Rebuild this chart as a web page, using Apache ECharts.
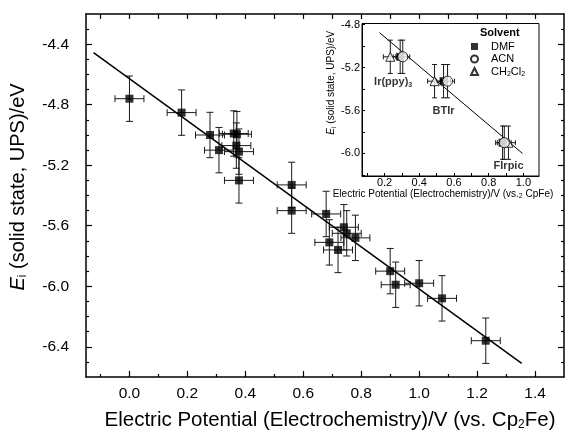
<!doctype html>
<html>
<head>
<meta charset="UTF-8">
<title>Ei vs electrochemical potential</title>
<script src="https://cdn.jsdelivr.net/npm/echarts@6/dist/echarts.min.js"></script>
<style>
  html, body { margin: 0; padding: 0; background: #fff; }
  #chart { width: 565px; height: 432px; }
</style>
</head>
<body>
<div id="chart"></div>
<script>
// main plot: UPS ionisation energy vs electrochemical potential
const potX = [0.0, 0.18, 0.278, 0.309, 0.36, 0.371, 0.369, 0.378, 0.378, 0.56, 0.56,
  0.679, 0.69, 0.72, 0.74, 0.75, 0.78, 0.90, 0.919, 1.0, 1.079, 1.23];
const energyY = [-4.76, -4.852, -5.0, -5.10, -4.99, -4.995, -5.07, -5.11, -5.30, -5.33, -5.50,
  -5.522, -5.71, -5.76, -5.61, -5.65, -5.68, -5.90, -5.99, -5.98, -6.08, -6.36];
const mainErrX = 0.05;
const mainErrY = 0.15;
const fitX = [-0.124, 1.354];
const fitY = [-4.456, -6.51];

// inset: three emitters measured in three solvents
const compounds = ['Ir(ppy)3', 'BTIr', 'FIrpic'];
const dmfX = [0.29, 0.54, 0.88];
const acnX = [0.305, 0.563, 0.89];
const dcmX = [0.233, 0.488, 0.914];
const insetY = [-5.10, -5.327, -5.90];
const insetErrX = 0.04;
const insetErrY = 0.155;
const insetFitX = [0.171, 0.995];
const insetFitY = [-4.875, -6.0];

// ticks
const xMajor = [0.0, 0.2, 0.4, 0.6, 0.8, 1.0, 1.2, 1.4];
const xMinor = [-0.1, 0.1, 0.3, 0.5, 0.7, 0.9, 1.1, 1.3];
const yMajor = [-6.4, -6.0, -5.6, -5.2, -4.8, -4.4];
const yMinor = [-6.5, -6.3, -6.2, -6.1, -5.9, -5.8, -5.7, -5.5, -5.4, -5.3,
  -5.1, -5.0, -4.9, -4.7, -4.6, -4.5, -4.3];
const insetXLabels = [0.2, 0.4, 0.6, 0.8, 1.0];
const insetXTicks = [0.1, 0.2, 0.3, 0.4, 0.5, 0.6, 0.7, 0.8, 0.9, 1.0];
const insetYLabels = [-6.0, -5.6, -5.2, -4.8];
const insetYTicks = [-6.2, -6.0, -5.8, -5.6, -5.4, -5.2, -5.0, -4.8];

const font = 'Liberation Sans, Arial, Helvetica, sans-serif';
const ink = '#000';

function tickAxis(gridIndex, position, min, max, ticks, len, withLine, labels) {
  return {
    type: 'value', gridIndex: gridIndex, position: position, min: min, max: max,
    axisLine: { show: withLine, onZero: false, lineStyle: { color: ink, width: gridIndex ? 1 : 1.5 } },
    axisTick: { show: true, inside: true, length: len, customValues: ticks,
      lineStyle: { color: ink, width: gridIndex ? 1 : 1.2 } },
    axisLabel: labels ? { show: true, customValues: labels,
      formatter: v => v.toFixed(1), color: ink, fontFamily: font } : { show: false },
    splitLine: { show: false }
  };
}

function errorBars(ex, ey, cap) {
  return function (params, api) {
    const x = api.value(0), y = api.value(1);
    const c = api.coord([x, y]);
    const l = api.coord([x - ex, y])[0], r = api.coord([x + ex, y])[0];
    const t = api.coord([x, y + ey])[1], b = api.coord([x, y - ey])[1];
    const st = { stroke: '#1a1a1a', lineWidth: 1 };
    const seg = (x1, y1, x2, y2) => ({ type: 'line', shape: { x1, y1, x2, y2 }, style: st });
    return { type: 'group', children: [
      seg(l, c[1], r, c[1]), seg(l, c[1] - cap, l, c[1] + cap), seg(r, c[1] - cap, r, c[1] + cap),
      seg(c[0], t, c[0], b), seg(c[0] - cap, t, c[0] + cap, t), seg(c[0] - cap, b, c[0] + cap, b)
    ] };
  };
}

const sub = { fontFamily: font, verticalAlign: 'bottom' };

// x axes
const xMain = tickAxis(0, 'bottom', -0.15, 1.5, xMajor, 6, true, xMajor);
xMain.axisLabel.fontSize = 15.5;
xMain.axisLabel.margin = 9;
xMain.name = '{t|Electric Potential (Electrochemistry)/V (vs. Cp}{s|2}{t|Fe)}';
xMain.nameLocation = 'middle';
xMain.nameGap = 32;
xMain.nameTextStyle = { color: ink, fontFamily: font, padding: [0, 0, 0, 10], rich: {
  t: { fontFamily: font, fontSize: 20.5, lineHeight: 22, color: ink },
  s: Object.assign({ fontSize: 12, lineHeight: 8, color: ink }, sub) } };

const xInset = tickAxis(1, 'bottom', 0.07, 1.09, insetXTicks, 3, true, insetXLabels);
xInset.axisLabel.fontSize = 11;
xInset.axisLabel.margin = 1;
xInset.name = '{t|Electric Potential (Electrochemistry)/V (vs.}{s|2}{t| CpFe)}';
xInset.nameLocation = 'middle';
xInset.nameGap = 10;
xInset.nameTextStyle = { color: ink, fontFamily: font, padding: [0, 15, 0, 0], rich: {
  t: { fontFamily: font, fontSize: 10, lineHeight: 12, color: ink },
  s: Object.assign({ fontSize: 7, lineHeight: 5, color: ink }, sub) } };

// y axes
const yMain = tickAxis(0, 'left', -6.6, -4.2, yMajor, 6, true, yMajor);
yMain.axisLabel.fontSize = 15.5;
yMain.axisLabel.margin = 17;
yMain.name = '{i|E}{s|i}{t| (solid state, UPS)/eV}';
yMain.nameLocation = 'middle';
yMain.nameGap = 57;
yMain.nameTextStyle = { color: ink, fontFamily: font, padding: [0, 0, 0, 17], rich: {
  i: { fontFamily: font, fontSize: 20, fontStyle: 'italic', lineHeight: 22, color: ink },
  t: { fontFamily: font, fontSize: 20, lineHeight: 22, color: ink },
  s: Object.assign({ fontSize: 12, lineHeight: 8, color: ink }, sub) } };

const yInset = tickAxis(1, 'left', -6.21, -4.79, insetYTicks, 3, true, insetYLabels);
yInset.axisLabel.fontSize = 11;
yInset.axisLabel.margin = 2;
yInset.name = '{i|E}{s|i}{t| (solid state, UPS)/eV}';
yInset.nameLocation = 'middle';
yInset.nameGap = 23;
yInset.nameTextStyle = { color: ink, fontFamily: font, padding: [0, 0, 0, 34], rich: {
  i: { fontFamily: font, fontSize: 10, fontStyle: 'italic', lineHeight: 12, color: ink },
  t: { fontFamily: font, fontSize: 10, lineHeight: 12, color: ink },
  s: Object.assign({ fontSize: 7, lineHeight: 5, color: ink }, sub) } };

const xAxes = [
  xMain,
  tickAxis(0, 'bottom', -0.15, 1.5, xMinor, 3, false, null),
  tickAxis(0, 'top', -0.15, 1.5, xMajor, 5, true, null),
  tickAxis(0, 'top', -0.15, 1.5, xMinor, 5, false, null),
  xInset
];
const yAxes = [
  yMain,
  tickAxis(0, 'left', -6.6, -4.2, yMinor, 3, false, null),
  tickAxis(0, 'right', -6.6, -4.2, yMajor, 6, true, null),
  tickAxis(0, 'right', -6.6, -4.2, yMinor, 3, false, null),
  yInset
];

const pairs = (xs, ys) => xs.map((x, i) => [x, ys[i]]);

const hollow = { color: '#fff', borderColor: ink, borderWidth: 1 };

const series = [
  { type: 'custom', name: 'main err', xAxisIndex: 0, yAxisIndex: 0, z: 2,
    renderItem: errorBars(mainErrX, mainErrY, 3.5), data: pairs(potX, energyY) },
  { type: 'line', name: 'fit', xAxisIndex: 0, yAxisIndex: 0, z: 3, symbol: 'none',
    lineStyle: { color: ink, width: 1.5 }, data: pairs(fitX, fitY) },
  { type: 'scatter', name: 'main', xAxisIndex: 0, yAxisIndex: 0, z: 4, symbol: 'rect', symbolSize: 8,
    itemStyle: { color: ink }, data: pairs(potX, energyY) },

  { type: 'line', name: 'inset fit', xAxisIndex: 4, yAxisIndex: 4, z: 5, symbol: 'none',
    lineStyle: { color: ink, width: 1 }, data: pairs(insetFitX, insetFitY) },
  { type: 'custom', name: 'dcm err', xAxisIndex: 4, yAxisIndex: 4, z: 6,
    renderItem: errorBars(insetErrX, insetErrY, 2.5), data: pairs(dcmX, insetY) },
  { type: 'custom', name: 'dmf err', xAxisIndex: 4, yAxisIndex: 4, z: 6,
    renderItem: errorBars(insetErrX, insetErrY, 2.5), data: pairs(dmfX, insetY) },
  { type: 'custom', name: 'acn err', xAxisIndex: 4, yAxisIndex: 4, z: 6,
    renderItem: errorBars(insetErrX, insetErrY, 2.5), data: pairs(acnX, insetY) },
  { type: 'scatter', name: 'CH2Cl2', xAxisIndex: 4, yAxisIndex: 4, z: 7, symbol: 'triangle', symbolSize: 9,
    itemStyle: hollow, data: pairs(dcmX, insetY) },
  { type: 'scatter', name: 'DMF', xAxisIndex: 4, yAxisIndex: 4, z: 8, symbol: 'rect', symbolSize: 8,
    itemStyle: { color: ink }, data: pairs(dmfX, insetY) },
  { type: 'scatter', name: 'ACN', xAxisIndex: 4, yAxisIndex: 4, z: 9, symbol: 'circle', symbolSize: 10,
    itemStyle: hollow, data: pairs(acnX, insetY) },
  { type: 'scatter', name: 'tags', xAxisIndex: 4, yAxisIndex: 4, z: 10, silent: true, symbolSize: 1,
    itemStyle: { color: 'rgba(0,0,0,0)' },
    data: compounds.map((n, i) => ({ value: [dmfX[i], insetY[i], n],
      label: { offset: [[-7, 25], [0, 30], [6, 23]][i] } })),
    label: { show: true, position: 'inside',
      formatter: p => '{b|' + p.value[2].replace(/(\d)$/, '}{s|$1') + '}',
      rich: { b: { fontFamily: font, fontSize: 11, fontWeight: 'bold', color: ink, lineHeight: 13 },
        s: { fontFamily: font, fontSize: 7, fontWeight: 'bold', color: ink, lineHeight: 5, verticalAlign: 'bottom' } } } }
];

const chart = echarts.init(document.getElementById('chart'), null, { renderer: 'canvas' });
chart.setOption({
  animation: false,
  backgroundColor: '#fff',
  title: { text: 'Solvent', left: 480, top: 27, padding: 0,
    textStyle: { fontFamily: font, fontSize: 11, fontWeight: 'bold', color: ink } },
  legend: {
    data: ['DMF', 'ACN', 'CH2Cl2'], orient: 'vertical', left: 470, top: 41, padding: 0,
    itemWidth: 7, itemHeight: 7, itemGap: 1.5, selectedMode: false,
    formatter: n => n === 'CH2Cl2' ? '{t|CH}{s|2}{t|Cl}{s|2}' : '{t|' + n + '}',
    textStyle: { fontFamily: font, fontSize: 11, color: ink, padding: [0, 0, 0, 8],
      rich: { t: { fontFamily: font, fontSize: 11, color: ink, lineHeight: 13 },
        s: { fontFamily: font, fontSize: 7, color: ink, lineHeight: 5, verticalAlign: 'bottom' } } }
  },
  grid: [
    { left: 86, top: 14, right: 1, bottom: 55, containLabel: false, outerBoundsMode: 'none' },
    { left: 362, top: 23.5, width: 177, height: 152.5, containLabel: false, outerBoundsMode: 'none',
      show: true, backgroundColor: '#fff', borderColor: ink, borderWidth: 1 }
  ],
  xAxis: xAxes,
  yAxis: yAxes,
  series: series
});
</script>
</body>
</html>
